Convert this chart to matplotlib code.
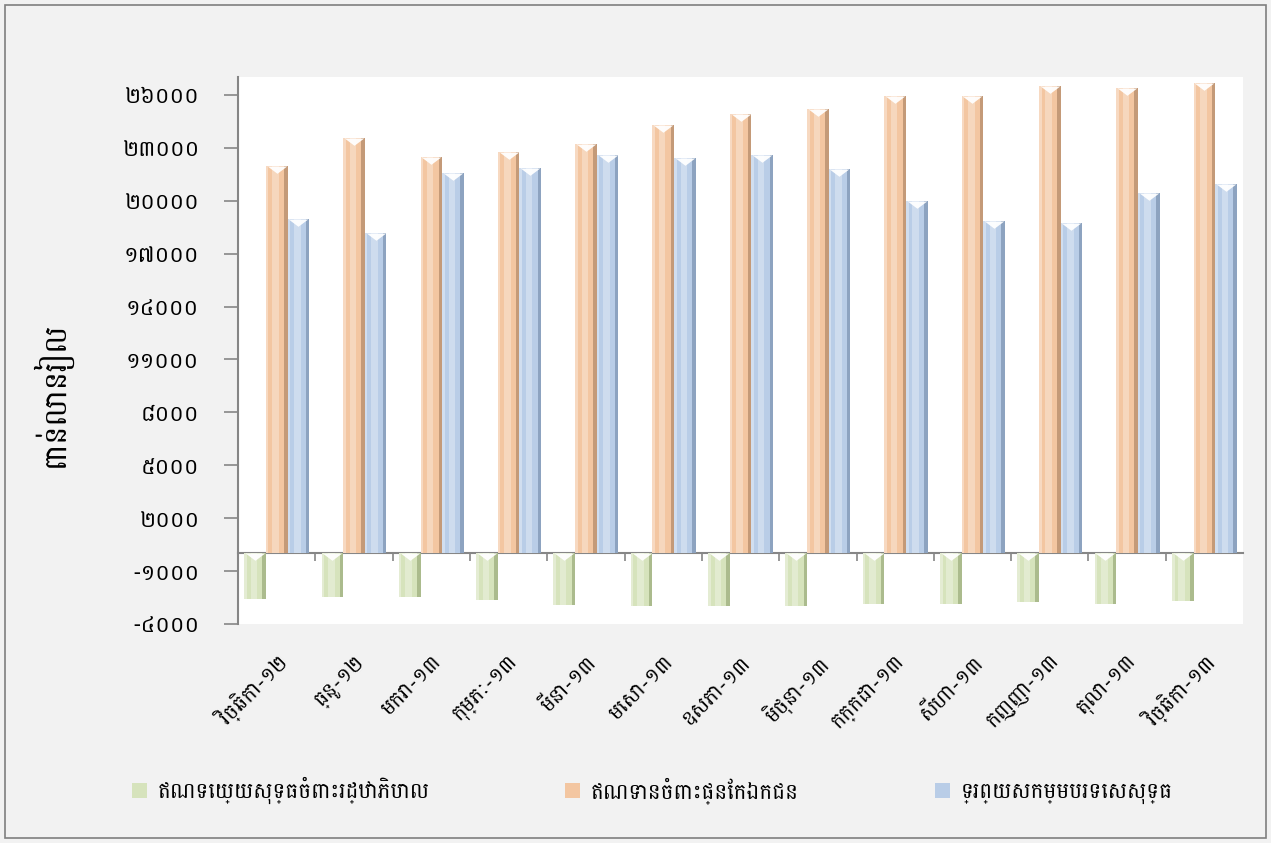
import numpy as np
import matplotlib
matplotlib.use('Agg')
import matplotlib.pyplot as plt
from matplotlib.patches import Rectangle
from matplotlib.path import Path

plt.rcParams['font.family'] = ['Battambang', 'DejaVu Sans']

months = ['វិច្ឆិកា-១២', 'ធ្នូ-១២', 'មករា-១៣', 'កុម្ភៈ-១៣', 'មីនា-១៣', 'មេសា-១៣',
          'ឧសភា-១៣', 'មិថុនា-១៣', 'កក្កដា-១៣', 'សីហា-១៣', 'កញ្ញា-១៣', 'តុលា-១៣',
          'វិច្ឆិកា-១៣']
gov = [-2580, -2470, -2470, -2640, -2920, -2980, -2980, -2980, -2860, -2860, -2750, -2860, -2700]
private = [21980, 23560, 22490, 22770, 23220, 24300, 24920, 25210, 25950, 25950, 26510, 26400, 26680]
nfa = [18970, 18180, 21580, 21860, 22600, 22430, 22600, 21810, 19990, 18860, 18740, 20450, 20950]
series_names = ['ឥណទេយ្យសុទ្ធចំពោះរដ្ឋាភិបាល', 'ឥណទានចំពោះផ្នែកឯកជន', 'ទ្រព្យសកម្មបរទេសសុទ្ធ']
ylabel = 'ពាន់លានរៀល'
yticks = list(range(-4000, 26001, 3000))

KH = str.maketrans('0123456789', '០១២៣៤៥៦៧៨៩')

fig = plt.figure(figsize=(12.71, 8.43), dpi=100)
fig.patch.set_facecolor('#F2F2F2')
fig.patches.append(Rectangle((0.004, 0.006), 0.992, 0.988, transform=fig.transFigure,
                             fill=False, edgecolor='#7F7F7F', linewidth=1.2))
ax = fig.add_axes([0.1873, 0.2598, 0.7907, 0.6489])
ax.set_facecolor('white')

ymin, ymax = -4000, 27020
x = np.arange(len(months))
w = 0.28
faces = ['#D6E3BC', '#F3C6A1', '#B9CDE7']
darks = ['#9AAB7A', '#B08867', '#7B92B0']
tri = Path([(-1, 0), (1, 0), (0, -0.75), (-1, 0)],
           [Path.MOVETO, Path.LINETO, Path.LINETO, Path.CLOSEPOLY])
for k, vals in enumerate([gov, private, nfa]):
    pos = x + (k - 1) * w
    vals = np.array(vals)
    ax.bar(pos, vals, w, color=faces[k], linewidth=0, label=series_names[k], zorder=2)
    # bevel: light left edge, light centre, darker right side
    ax.bar(pos - w * 0.44, vals, w * 0.12, color='white', alpha=0.35, linewidth=0, zorder=3)
    ax.bar(pos - w * 0.05, vals, w * 0.3, color='white', alpha=0.3, linewidth=0, zorder=3)
    ax.bar(pos + w * 0.42, vals, w * 0.16, color=darks[k], alpha=0.7, linewidth=0, zorder=3)
    ax.scatter(pos, np.maximum(vals, 0), s=14 ** 2, marker=tri, color='white',
               alpha=0.95, linewidths=0, zorder=4)

ax.set_xlim(-0.5, len(months) - 0.5)
ax.set_ylim(ymin, ymax)
ax.set_yticks(yticks)
ax.set_yticklabels([str(v).translate(KH) for v in yticks], fontsize=16)
ax.tick_params(axis='y', direction='out', length=10, width=1.2, color='#868686', pad=18)
ax.set_xticks(x)
ax.set_xticklabels(months, rotation=45, ha='right', rotation_mode='anchor', fontsize=15)
ax.tick_params(axis='x', length=0, pad=20)
for s in ['top', 'right', 'bottom']:
    ax.spines[s].set_visible(False)
ax.spines['left'].set_color('#868686')
ax.spines['left'].set_linewidth(1.5)

# category axis line at zero
zero_frac = (0 - ymin) / (ymax - ymin)
sec = ax.secondary_xaxis(zero_frac)
sec.set_xticks(x[:-1] + 0.5)
sec.set_xticklabels([])
sec.tick_params(direction='out', length=6, width=1.2, color='#868686')
sec.spines['bottom'].set_color('#868686')
sec.spines['bottom'].set_linewidth(1.5)

ax.set_ylabel(ylabel, fontsize=22)
ax.yaxis.set_label_coords(-0.165, 0.42)

h, l = ax.get_legend_handles_labels()
fig.legend(h, l, loc='center', bbox_to_anchor=(0.513, 0.062), ncol=3, frameon=False,
           fontsize=15.5, handlelength=0.7, handleheight=0.7, handletextpad=0.5,
           columnspacing=6.3)

fig.savefig('out.png', dpi=100, facecolor=fig.get_facecolor())
